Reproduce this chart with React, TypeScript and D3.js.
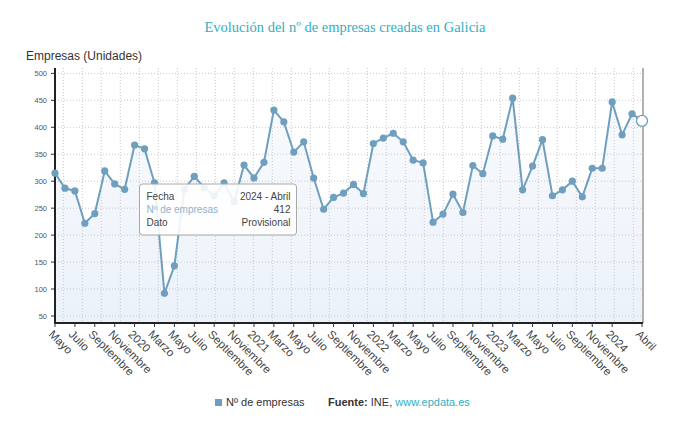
import React from "react";
import * as d3 from "d3";

// monthly data, May 2019 - April 2024
const monthNames = [
  "Enero", "Febrero", "Marzo", "Abril", "Mayo", "Junio",
  "Julio", "Agosto", "Septiembre", "Octubre", "Noviembre", "Diciembre",
];

const months: string[] = [];
for (let y = 2019; y <= 2024; y++) {
  for (let m = 0; m < 12; m++) {
    if (y === 2019 && m < 4) continue;
    if (y === 2024 && m > 3) continue;
    months.push(`${y} - ${monthNames[m]}`);
  }
}

const empresas = [
  315, 287, 282, 222, 240, 319, 295, 285,
  367, 360, 297, 92, 143, 285, 309, 288, 273, 297, 262, 330,
  306, 335, 432, 410, 354, 373, 306, 248, 270, 278, 294, 277,
  370, 380, 389, 373, 339, 334, 224, 239, 276, 242, 329, 314,
  384, 378, 454, 284, 328, 377, 273, 284, 300, 271, 324, 324,
  447, 386, 425, 412,
];

const tickLabels = [
  "Mayo", "Julio", "Septiembre", "Noviembre",
  "2020", "Marzo", "Mayo", "Julio", "Septiembre", "Noviembre",
  "2021", "Marzo", "Mayo", "Julio", "Septiembre", "Noviembre",
  "2022", "Marzo", "Mayo", "Julio", "Septiembre", "Noviembre",
  "2023", "Marzo", "Mayo", "Julio", "Septiembre", "Noviembre",
  "2024", "Abril",
];
const tickMonths = [
  "2019 - Mayo", "2019 - Julio", "2019 - Septiembre", "2019 - Noviembre",
  "2020 - Enero", "2020 - Marzo", "2020 - Mayo", "2020 - Julio", "2020 - Septiembre", "2020 - Noviembre",
  "2021 - Enero", "2021 - Marzo", "2021 - Mayo", "2021 - Julio", "2021 - Septiembre", "2021 - Noviembre",
  "2022 - Enero", "2022 - Marzo", "2022 - Mayo", "2022 - Julio", "2022 - Septiembre", "2022 - Noviembre",
  "2023 - Enero", "2023 - Marzo", "2023 - Mayo", "2023 - Julio", "2023 - Septiembre", "2023 - Noviembre",
  "2024 - Enero", "2024 - Abril",
];

const yTicks = [50, 100, 150, 200, 250, 300, 350, 400, 450, 500];

const W = 690;
const H = 428;
const left = 55;
const right = 643;
const top = 68;
const bottom = 323;

const lineColor = "#6f9fbe";
const teal = "#33afc1";
const sans = "'Liberation Sans', Arial, sans-serif";

export default function App() {
  const x = d3.scalePoint<string>().domain(months).range([left, 642]);
  const y = d3.scaleLinear().domain([37, 510]).range([bottom, top]);
  // background grid columns (independent of the month ticks)
  const gridX = d3.scaleLinear().domain([0, 30]).range([63.3, 633.3]);

  const line = d3
    .line<number>()
    .x((_, i) => x(months[i])!)
    .y((d) => y(d));
  const area = d3
    .area<number>()
    .x((_, i) => x(months[i])!)
    .y0(bottom)
    .y1((d) => y(d));

  const last = empresas.length - 1;
  const tipX = 139.5;
  const tipY = 184;
  const tipW = 157;
  const tipH = 51;

  return (
    <svg
      width={W}
      height={H}
      style={{ position: "fixed", left: 0, top: 0, background: "#fff" }}
    >
      <defs>
        <linearGradient id="areaGrad" x1="0" y1="0" x2="0" y2="1">
          <stop offset="0%" stopColor="#e6eef8" stopOpacity={0.25} />
          <stop offset="100%" stopColor="#e6eef8" stopOpacity={0.8} />
        </linearGradient>
      </defs>

      <text
        x={W / 2}
        y={31.5}
        textAnchor="middle"
        fontFamily="'Liberation Serif', 'Times New Roman', serif"
        fontSize={14.5}
        fill={teal}
      >
        Evolución del nº de empresas creadas en Galicia
      </text>

      <text x={26} y={60} fontFamily={sans} fontSize={12} fill="#333">
        Empresas (Unidades)
      </text>

      {/* area under line */}
      <path d={area(empresas)!} fill="url(#areaGrad)" />

      {/* grid */}
      <g stroke="#c9c9cf" strokeWidth={1} strokeDasharray="1 2">
        {yTicks.map((t) => (
          <line key={t} x1={left} x2={right} y1={y(t)} y2={y(t)} />
        ))}
        {d3.range(31).map((k) => (
          <line key={k} x1={gridX(k)} x2={gridX(k)} y1={top} y2={bottom} />
        ))}
      </g>

      {/* y axis */}
      <g fontFamily={sans} fontSize={7.5} fill="#555">
        {yTicks.map((t) => (
          <g key={t}>
            <line x1={51} x2={left} y1={y(t)} y2={y(t)} stroke="#333" strokeWidth={1} />
            <text x={47} y={y(t)} dy="0.35em" textAnchor="end">
              {t}
            </text>
          </g>
        ))}
      </g>

      {/* axes lines */}
      <line x1={right} x2={right} y1={top} y2={bottom} stroke="#999" strokeWidth={1.5} />
      <line x1={left} x2={left} y1={top} y2={bottom + 1} stroke="#222" strokeWidth={2} />
      <line x1={left} x2={right} y1={bottom} y2={bottom} stroke="#222" strokeWidth={2} />

      {/* x axis ticks and labels */}
      <g fontFamily={sans} fontSize={11.5} fill="#444">
        {tickMonths.map((m, i) => {
          const tx = x(m)!;
          return (
            <g key={m}>
              <line x1={tx} x2={tx} y1={bottom} y2={bottom + 4} stroke="#333" strokeWidth={1} />
              <text transform={`translate(${tx - 7},${335}) rotate(45)`}>{tickLabels[i]}</text>
            </g>
          );
        })}
      </g>

      {/* series */}
      <path d={line(empresas)!} fill="none" stroke={lineColor} strokeWidth={2} />
      {empresas.map((d, i) =>
        i === last ? null : (
          <circle key={i} cx={x(months[i])} cy={y(d)} r={3.6} fill={lineColor} />
        )
      )}
      <circle
        cx={x(months[last])}
        cy={y(empresas[last])}
        r={5.5}
        fill="#fff"
        stroke={lineColor}
        strokeWidth={1.3}
      />

      {/* tooltip */}
      <g fontFamily={sans} fontSize={10}>
        <rect
          x={tipX}
          y={tipY}
          width={tipW}
          height={tipH}
          rx={3}
          fill="#fff"
          fillOpacity={0.88}
          stroke="#a9a9a9"
          strokeWidth={1}
        />
        <text x={tipX + 7} y={tipY + 15.5} fill="#444">Fecha</text>
        <text x={tipX + tipW - 6} y={tipY + 15.5} fill="#444" textAnchor="end">
          {months[last]}
        </text>
        <text x={tipX + 7} y={tipY + 28.8} fill="#8fb3c9">Nº de empresas</text>
        <text x={tipX + tipW - 6} y={tipY + 28.8} fill="#444" textAnchor="end">
          {empresas[last]}
        </text>
        <text x={tipX + 7} y={tipY + 42} fill="#444">Dato</text>
        <text x={tipX + tipW - 6} y={tipY + 42} fill="#444" textAnchor="end">
          Provisional
        </text>
      </g>

      {/* legend */}
      <g fontFamily={sans} fontSize={11}>
        <rect x={215} y={399} width={7} height={7} fill={lineColor} />
        <text x={226} y={406} fill="#333">Nº de empresas</text>
        <text x={328} y={406} fill="#333">
          <tspan fontWeight="bold">Fuente:</tspan>
          <tspan> INE, </tspan>
          <tspan fill={teal}>www.epdata.es</tspan>
        </text>
      </g>
    </svg>
  );
}
